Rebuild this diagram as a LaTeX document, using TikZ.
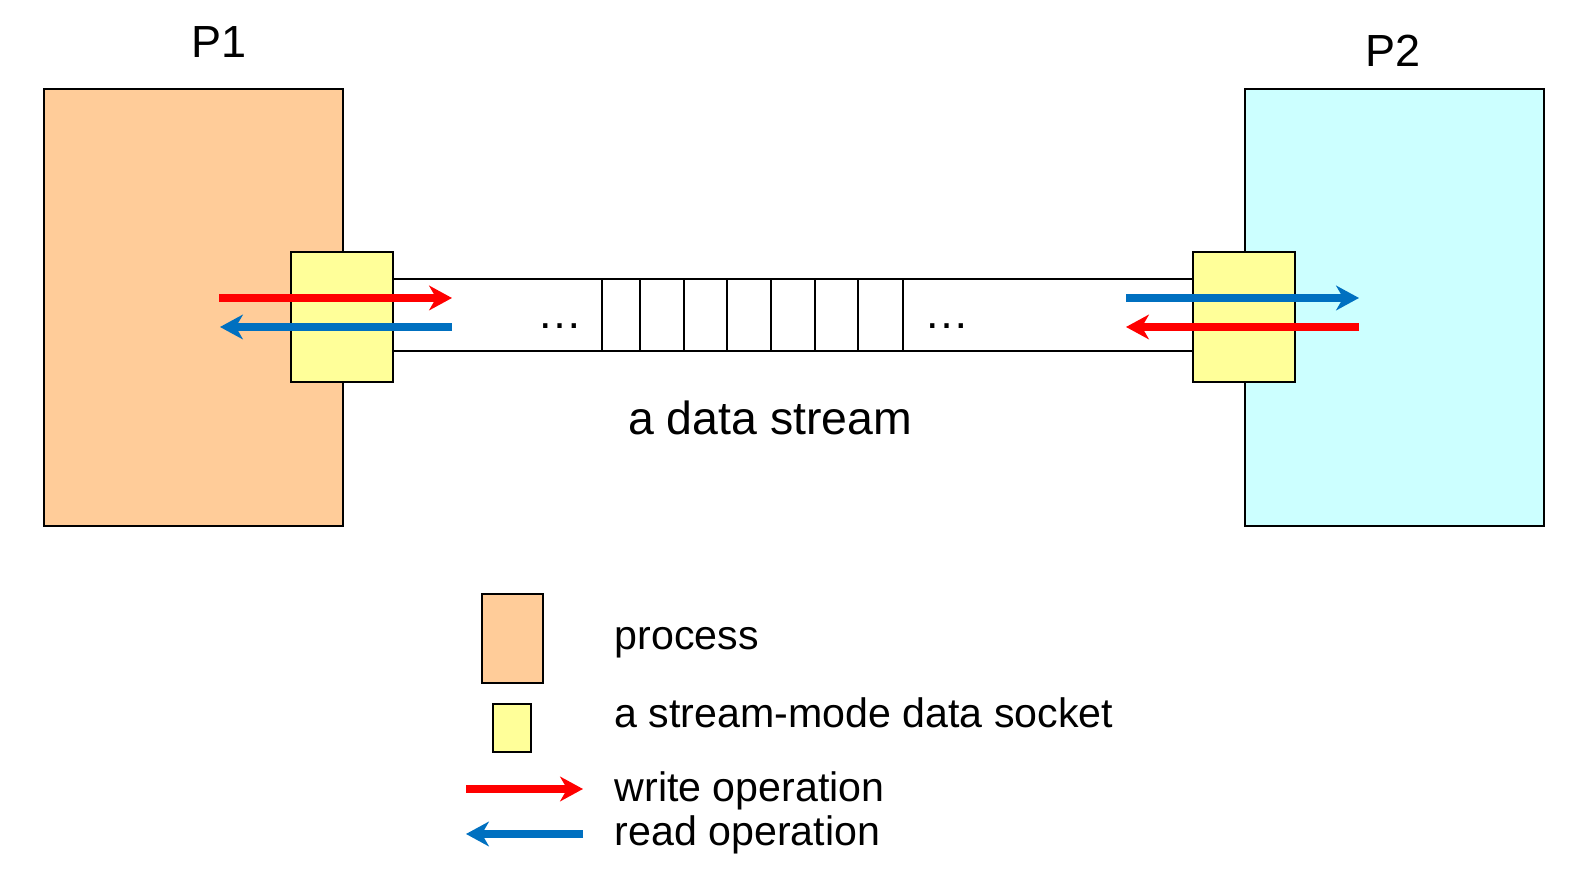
\documentclass[tikz,border=0pt]{standalone}
\usepackage{fontspec}
\setmainfont{Liberation Sans}
\usetikzlibrary{arrows.meta}
\definecolor{procfill}{RGB}{255,204,153}
\definecolor{proc2fill}{RGB}{204,255,255}
\definecolor{sockfill}{RGB}{255,255,153}
\definecolor{wred}{RGB}{255,0,0}
\definecolor{rblue}{RGB}{0,112,192}
\tikzset{
  box/.style={draw=black, line width=0.65pt},
  streamline/.style={draw=black, line width=0.7pt},
  opwrite/.style={draw=wred, line width=2pt, -{Stealth[length=6.5pt,width=7pt,inset=2pt]}},
  opread/.style={draw=rblue, line width=2pt, -{Stealth[length=6.5pt,width=7pt,inset=2pt]}},
  bigtxt/.style={inner sep=0pt, font=\fontsize{12.8pt}{15pt}\selectfont},
  legtxt/.style={inner sep=0pt, anchor=base west, font=\fontsize{11.7pt}{14pt}\selectfont},
}
\begin{document}
\begin{tikzpicture}[x=0.01cm,y=-0.01cm]
\useasboundingbox (0,0) rectangle (1588,874);
% processes
\path[box, fill=procfill] (44,89) rectangle (343,526);
\path[box, fill=proc2fill] (1245,89) rectangle (1544,526);
\node[bigtxt, anchor=base] (p1) at (219,58) {P1};
\node[bigtxt, anchor=base] (p2) at (1393,67) {P2};
% stream
\draw[streamline] (393,279) -- (1193,279);
\draw[streamline] (393,351) -- (1193,351);
\foreach \x in {602,640,684,727,771,815,858,903}
  \draw[streamline] (\x,279) -- (\x,351);
\node[bigtxt, anchor=base] (dl) at (560,329) {…};
\node[bigtxt, anchor=base] (dr) at (947,329) {…};
\node[bigtxt, anchor=base, font=\fontsize{13.2pt}{15pt}\selectfont] (ds) at (770,435) {a data stream};
% sockets
\path[box, fill=sockfill] (291,252) rectangle (393,382);
\path[box, fill=sockfill] (1193,252) rectangle (1295,382);
% operations left
\coordinate (lw1) at (219,298); \coordinate (lw2) at (452,298);
\coordinate (lr1) at (452,327); \coordinate (lr2) at (220,327);
\draw[opwrite] (lw1) -- (lw2);
\draw[opread] (lr1) -- (lr2);
% operations right
\coordinate (rr1) at (1126,298); \coordinate (rr2) at (1359,298);
\coordinate (rw1) at (1359,327); \coordinate (rw2) at (1126,327);
\draw[opread] (rr1) -- (rr2);
\draw[opwrite] (rw1) -- (rw2);
% legend
\path[box, fill=procfill] (482,594) rectangle (543,683);
\path[box, fill=sockfill] (493,704) rectangle (531,752);
\coordinate (gw1) at (466,789); \coordinate (gw2) at (583,789);
\coordinate (gr1) at (583,834); \coordinate (gr2) at (466,834);
\draw[opwrite] (gw1) -- (gw2);
\draw[opread] (gr1) -- (gr2);
\node[legtxt] (l1) at (614,650) {process};
\node[legtxt] (l2) at (614,728) {a stream-mode data socket};
\node[legtxt] (l3) at (614,802) {write operation};
\node[legtxt] (l4) at (614,846) {read operation};
\end{tikzpicture}
\end{document}
